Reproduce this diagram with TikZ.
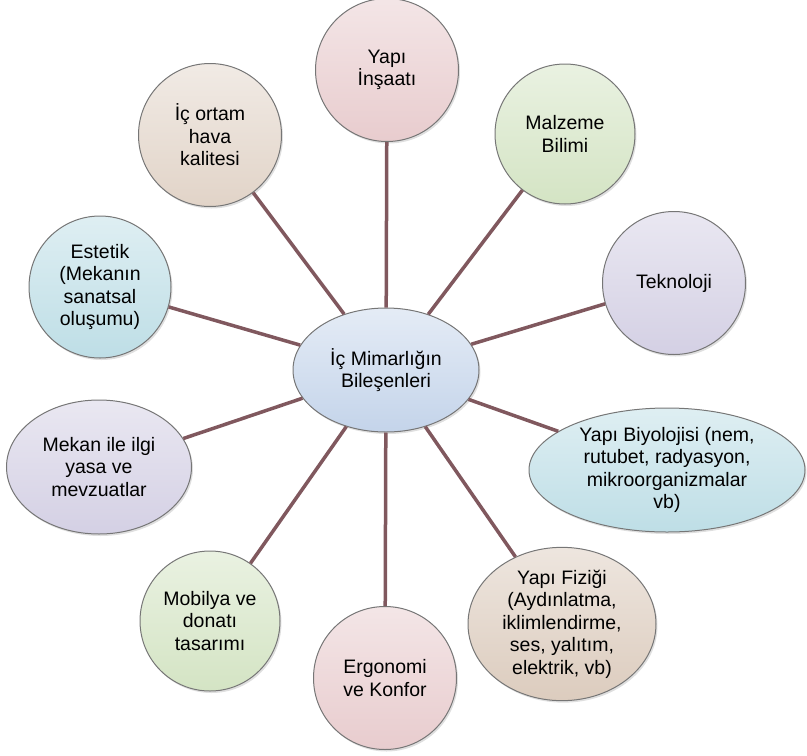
\documentclass[tikz,border=0pt]{standalone}
\usepackage{fontspec}
\setmainfont{Liberation Sans}
\usetikzlibrary{shapes.geometric,shadows}

\definecolor{spokecol}{RGB}{128,88,94}
\definecolor{rimcol}{RGB}{118,118,118}
\definecolor{pinkfill}{RGB}{232,204,206}
\definecolor{greenfill}{RGB}{212,228,196}
\definecolor{lilacfill}{RGB}{212,208,228}
\definecolor{bluefill}{RGB}{190,222,230}
\definecolor{beigefill}{RGB}{220,204,190}
\definecolor{hubfill}{RGB}{196,212,234}

\begin{document}
\begin{tikzpicture}[x=1pt,y=-1pt,
		bubble/.style={circle, draw=rimcol, line width=1pt, align=center, inner sep=0pt,
			minimum size=143pt, font=\fontsize{19.5}{22.5}\selectfont,
			drop shadow={opacity=0.25, shadow xshift=1.5pt, shadow yshift=-2pt}},
		oval/.style={bubble, ellipse, minimum size=0pt},
		spoke/.style={line width=3.5pt, spokecol}]
	\useasboundingbox (0,0) rectangle (807,756);

	% centre
	\node [oval, minimum width=186pt, minimum height=124pt, top color=hubfill!45!white, bottom color=hubfill] (hub) at (386,370) {İç Mimarlığın\\Bileşenleri};

	% clockwise from the top
	\node [bubble, top color=pinkfill!50!white, bottom color=pinkfill] (yapi) at (387,70) {Yapı\\İnşaatı};
	\node [bubble, minimum size=140pt, top color=greenfill!50!white, bottom color=greenfill] (malzeme) at (565,134) {Malzeme\\Bilimi};
	\node [bubble, top color=lilacfill!50!white, bottom color=lilacfill] (tekno) at (674,283) {Teknoloji};
	\node [oval, minimum width=276pt, minimum height=124pt, top color=bluefill!50!white, bottom color=bluefill] (biyo) at (667,470) {Yapı Biyolojisi (nem,\\rutubet, radyasyon,\\mikroorganizmalar\\vb)};
	\node [oval, minimum width=188pt, minimum height=148pt, top color=beigefill!50!white, bottom color=beigefill] (fizik) at (562,624) {Yapı Fiziği\\(Aydınlatma,\\iklimlendirme,\\ses, yalıtım,\\elektrik, vb)};
	\node [bubble, top color=pinkfill!50!white, bottom color=pinkfill] (ergo) at (385,678) {Ergonomi\\ve Konfor};
	\node [bubble, minimum size=140pt, top color=greenfill!50!white, bottom color=greenfill] (mobilya) at (210,621) {Mobilya ve\\donatı\\tasarımı};
	\node [oval, minimum width=185pt, minimum height=134pt, top color=lilacfill!50!white, bottom color=lilacfill] (mekan) at (99,467) {Mekan ile ilgi\\yasa ve\\mevzuatlar};
	\node [bubble, minimum size=142pt, top color=bluefill!50!white, bottom color=bluefill] (estetik) at (100,287) {Estetik\\(Mekanın\\sanatsal\\oluşumu)};
	\node [bubble, top color=beigefill!40!white, bottom color=beigefill!85!white] (hava) at (210,135) {İç ortam\\hava\\kalitesi};

	% spokes
	\foreach \n in {yapi,malzeme,tekno,biyo,fizik,ergo,mobilya,mekan,estetik,hava}
		\draw [spoke] (hub) -- (\n);
\end{tikzpicture}
\end{document}
